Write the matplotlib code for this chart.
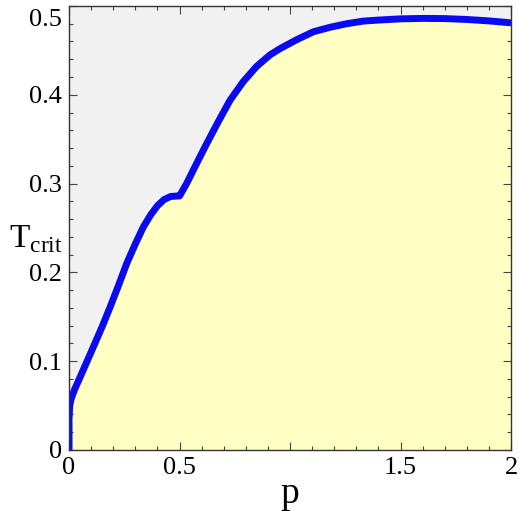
import numpy as np
import matplotlib
matplotlib.use("Agg")
import matplotlib.pyplot as plt
import matplotlib.transforms as mtransforms
from matplotlib.ticker import MultipleLocator, FixedLocator, FixedFormatter

# critical temperature
p_vals = [0.0, 0.0, 0.003, 0.01, 0.025, 0.05, 0.08, 0.11, 0.15, 0.186, 0.225, 0.261,
          0.30, 0.336, 0.37, 0.40, 0.43, 0.46, 0.49, 0.50,
          0.532, 0.578, 0.623, 0.676, 0.729, 0.789, 0.849, 0.910, 0.955, 1.030,
          1.106, 1.181, 1.256, 1.332, 1.392, 1.5, 1.6, 1.7, 1.8, 1.9, 2.0]
t_vals = [0.0, 0.035, 0.05, 0.058, 0.068, 0.082, 0.099, 0.116, 0.139, 0.161, 0.186, 0.210,
          0.232, 0.251, 0.265, 0.275, 0.282, 0.2855, 0.286, 0.286,
          0.300, 0.323, 0.345, 0.370, 0.394, 0.415, 0.432, 0.445, 0.452, 0.462,
          0.471, 0.476, 0.480, 0.483, 0.484, 0.4855, 0.486, 0.4858, 0.4848, 0.4832, 0.481]

x_ticks = [0, 0.5, 1.0, 1.5, 2.0]
x_tick_labels = ["0", "0.5", "", "1.5", "2"]
y_ticks = [0, 0.1, 0.2, 0.3, 0.4, 0.5]
y_tick_labels = ["0", "0.1", "0.2", "0.3", "0.4", "0.5"]

plt.rcParams['font.family'] = ['Liberation Serif', 'DejaVu Serif']

fig = plt.figure(figsize=(5.19, 5.11), dpi=100)
ax = fig.add_axes([0.133, 0.1194, 0.8516, 0.8689])

ax.set_facecolor('#f1f1f1')
ax.fill_between(p_vals, 0, t_vals, color='#ffffc4', linewidth=0, zorder=1)
ax.plot(p_vals, t_vals, color='#0a0af0', linewidth=5, solid_capstyle='butt',
        solid_joinstyle='round', zorder=3)

ax.set_xlim(0, 2)
ax.set_ylim(0, 0.5)
ax.xaxis.set_major_locator(FixedLocator(x_ticks))
ax.xaxis.set_major_formatter(FixedFormatter(x_tick_labels))
ax.yaxis.set_major_locator(FixedLocator(y_ticks))
ax.yaxis.set_major_formatter(FixedFormatter(y_tick_labels))
ax.xaxis.set_minor_locator(MultipleLocator(0.1))
ax.yaxis.set_minor_locator(MultipleLocator(0.02))

ax.tick_params(which='both', direction='in', top=True, right=True, colors='#444444',
               labelcolor='black', labelsize=19, width=0.8)
ax.tick_params(which='major', length=6, pad=5)
ax.tick_params(which='minor', length=3)
for s in ax.spines.values():
    s.set_color('#333333')
    s.set_linewidth(1.0)
    s.set_zorder(4)

# top label sits a bit lower so it stays inside the figure
fig.canvas.draw()
top_lbl = ax.get_yticklabels()[-1]
top_lbl.set_transform(top_lbl.get_transform() +
                      mtransforms.ScaledTranslation(0, -8 / 72, fig.dpi_scale_trans))

ax.set_xlabel('p', fontsize=27, labelpad=-2)
ax.text(-0.15, 0.237, r'T$_{\mathregular{crit}}$', fontsize=24, ha='center', va='center',
        transform=ax.transData, clip_on=False)

fig.savefig('out.png', dpi=100)
